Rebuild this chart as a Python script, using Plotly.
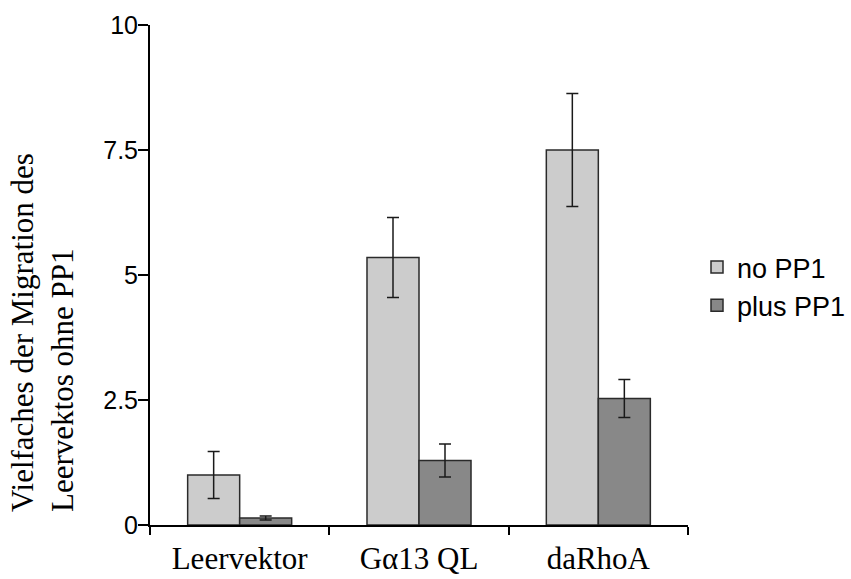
import plotly.graph_objects as go

# Migration data: fold change relative to empty vector without PP1
categories = ["Leervektor", "Gα13 QL", "daRhoA"]
no_pp1 = [1.0, 5.35, 7.5]
no_pp1_err = [0.47, 0.8, 1.13]
plus_pp1 = [0.14, 1.29, 2.53]
plus_pp1_err = [0.04, 0.33, 0.38]
y_ticks = [0, 2.5, 5, 7.5, 10]
y_ticklabels = ["0", "2.5", "5", "7.5", "10"]

SERIF = "Liberation Serif"
SANS = "Liberation Sans"

fig = go.Figure()
fig.add_trace(go.Bar(
    name="no PP1", x=categories, y=no_pp1,
    marker=dict(color="#cccccc", line=dict(color="#2a2a2a", width=1.5)),
    error_y=dict(type="data", array=no_pp1_err, color="#1a1a1a", thickness=1.5, width=6),
))
fig.add_trace(go.Bar(
    name="plus PP1", x=categories, y=plus_pp1,
    marker=dict(color="#888888", line=dict(color="#2a2a2a", width=1.5)),
    error_y=dict(type="data", array=plus_pp1_err, color="#1a1a1a", thickness=1.5, width=6),
))

# plot area: x 150..688 px, y 25..525 px
L, R, T, B = 150, 163, 25, 54
W, H = 851 - L - R, 579 - T - B

def px_x(p):
    return (p - L) / W

def px_y(p):
    return (579 - B - p) / H

fig.update_layout(
    width=851, height=579,
    margin=dict(l=L, r=R, t=T, b=B, autoexpand=False),
    paper_bgcolor="white", plot_bgcolor="white",
    barmode="group", bargap=0.42, bargroupgap=0,
    showlegend=True,
    legend=dict(
        x=px_x(697), y=px_y(243), xanchor="left", yanchor="top",
        font=dict(family=SANS, size=27, color="black"),
        bgcolor="rgba(0,0,0,0)", borderwidth=0,
    ),
    xaxis=dict(
        showline=True, linecolor="black", linewidth=2,
        ticks="outside", ticklen=8, tickwidth=2, tickcolor="black",
        tickson="boundaries", ticklabelstandoff=5,
        tickfont=dict(family=SERIF, size=31, color="black"),
        showgrid=False, zeroline=False, automargin=False,
    ),
    yaxis=dict(
        range=[0, 10], showline=True, linecolor="black", linewidth=2,
        ticks="outside", ticklen=10, tickwidth=2, tickcolor="black",
        ticklabelstandoff=-5,
        tickvals=y_ticks, ticktext=y_ticklabels,
        tickfont=dict(family=SANS, size=25, color="black"),
        showgrid=False, zeroline=False, automargin=False,
    ),
)

# white panel next to the tick labels (clips "7.5" and "2.5")
fig.add_shape(type="rect", xref="paper", yref="paper",
              x0=px_x(74), x1=px_x(103), y0=px_y(440), y1=px_y(110),
              fillcolor="white", line=dict(width=0), layer="above")

fig.add_annotation(
    text="Vielfaches der Migration des<br>Leervektos ohne PP1",
    xref="paper", yref="paper", x=px_x(42), y=px_y(333),
    xanchor="center", yanchor="middle", textangle=-90, align="left",
    showarrow=False, font=dict(family=SERIF, size=31, color="black"),
)

fig.write_html("out.html")
